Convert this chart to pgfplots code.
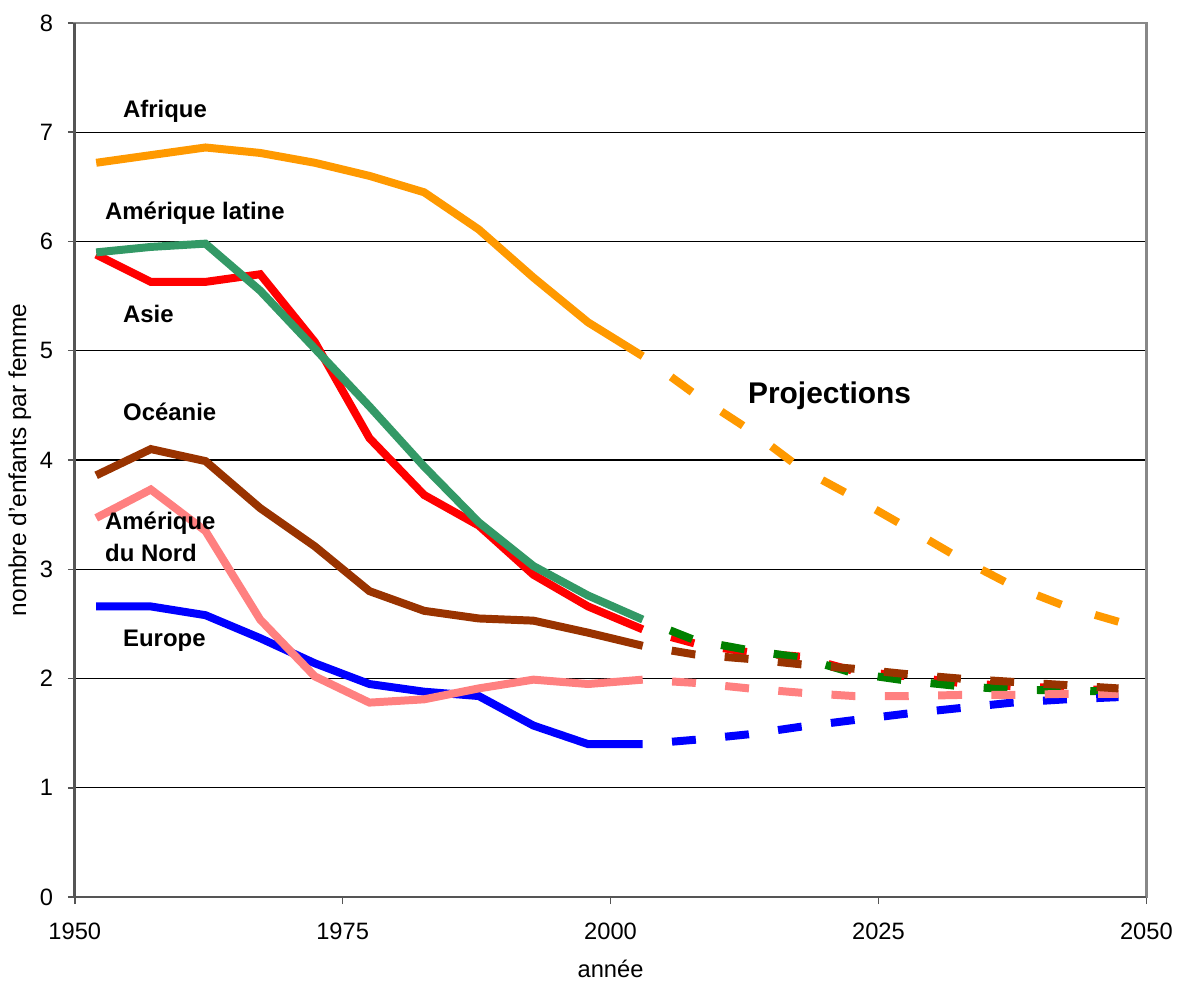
\documentclass[border=0pt]{standalone}
\usepackage{fontspec}
\setmainfont{Liberation Sans}
\usepackage{pgfplots}
\pgfplotsset{compat=1.18}

\definecolor{cAfr}{HTML}{FF9900}
\definecolor{cAsi}{HTML}{FF0000}
\definecolor{cLat}{HTML}{339966}
\definecolor{cLatP}{HTML}{008000}
\definecolor{cOce}{HTML}{993300}
\definecolor{cNor}{HTML}{FF8080}
\definecolor{cEur}{HTML}{0000FF}
\definecolor{axdark}{HTML}{555555}
\definecolor{axgray}{HTML}{888888}

\tikzset{
    solid line/.style={line width=3.2pt, line cap=butt},
    proj/.style={line width=3.2pt, line cap=butt, dash pattern=on 9.6pt off 11.8pt, dash phase=9.6pt},
    projA/.style={line width=3.2pt, line cap=butt, dash pattern=on 10.4pt off 14.1pt, dash phase=10.4pt},
    lab/.style={font=\fontsize{9.6}{11}\selectfont\bfseries, anchor=base west, inner sep=0pt},
}

\begin{document}
\begin{tikzpicture}
\begin{axis}[
    name=ax,
    scale only axis,
    width=430pt, height=350.8pt,
    xmin=1950, xmax=2050, ymin=0, ymax=8,
    xtick={1950,1975,2000,2025,2050},
    ytick={0,1,2,3,4,5,6,7,8},
    xtick pos=bottom, ytick pos=left,
    tick align=outside,
    major tick length=2.8pt,
    tick style={axdark, line width=0.6pt},
    axis line style={axgray, line width=1.1pt},
    ymajorgrids=true,
    grid style={black, line width=0.5pt},
    /pgf/number format/assume math mode=true,
    /pgf/number format/1000 sep={},
    tick label style={font=\fontsize{9.5}{11}\selectfont},
    xticklabel style={yshift=-4pt},
    yticklabel style={xshift=-2.4pt},
    xlabel={année},
    ylabel={nombre d'enfants par femme},
    every axis x label/.style={at={(axis description cs:0.5,-0.0825)}, anchor=center, font=\fontsize{9.5}{11}\selectfont},
    every axis y label/.style={at={(axis description cs:-0.0512,0.5)}, anchor=center, rotate=90, font=\fontsize{9.8}{11}\selectfont},
    clip=false,
]
% Asie
\addplot[cAsi, solid line, mark=none] coordinates {(1952.0,5.88)(1957.1,5.63)(1962.2,5.63)(1967.3,5.70)(1972.4,5.08)(1977.5,4.20)(1982.6,3.68)(1987.7,3.40)(1992.8,2.95)(1997.9,2.66)(2003.0,2.45)};
\addplot[cAsi, proj, mark=none] coordinates {(2003.0,2.45)(2007.9,2.32)(2012.9,2.24)(2017.8,2.20)(2022.7,2.07)(2027.7,2.02)(2032.6,1.96)(2037.5,1.93)(2042.5,1.91)(2047.4,1.89)};
% Amerique latine
\addplot[cLat, solid line, mark=none] coordinates {(1952.0,5.90)(1957.1,5.95)(1962.2,5.98)(1967.3,5.55)(1972.4,5.02)(1977.5,4.49)(1982.6,3.94)(1987.7,3.43)(1992.8,3.03)(1997.9,2.76)(2003.0,2.54)};
\addplot[cLatP, proj, mark=none] coordinates {(2003.0,2.54)(2007.9,2.35)(2012.9,2.26)(2017.8,2.19)(2022.7,2.05)(2027.7,1.98)(2032.6,1.93)(2037.5,1.90)(2042.5,1.89)(2047.4,1.88)};
% Europe
\addplot[cEur, solid line, mark=none] coordinates {(1952.0,2.66)(1957.1,2.66)(1962.2,2.58)(1967.3,2.37)(1972.4,2.14)(1977.5,1.95)(1982.6,1.88)(1987.7,1.84)(1992.8,1.57)(1997.9,1.40)(2003.0,1.40)};
\addplot[cEur, proj, mark=none] coordinates {(2003.0,1.40)(2007.9,1.44)(2012.9,1.49)(2017.8,1.56)(2022.7,1.62)(2027.7,1.68)(2032.6,1.73)(2037.5,1.78)(2042.5,1.81)(2047.4,1.83)};
% Amerique du Nord
\addplot[cNor, solid line, mark=none] coordinates {(1952.0,3.47)(1957.1,3.73)(1962.2,3.35)(1967.3,2.54)(1972.4,2.02)(1977.5,1.78)(1982.6,1.81)(1987.7,1.91)(1992.8,1.99)(1997.9,1.95)(2003.0,1.99)};
\addplot[cNor, proj, mark=none] coordinates {(2003.0,1.99)(2007.9,1.96)(2012.9,1.91)(2017.8,1.87)(2022.7,1.84)(2027.7,1.84)(2032.6,1.85)(2037.5,1.85)(2042.5,1.86)(2047.4,1.86)};
% Oceanie
\addplot[cOce, solid line, mark=none] coordinates {(1952.0,3.86)(1957.1,4.10)(1962.2,3.99)(1967.3,3.56)(1972.4,3.21)(1977.5,2.80)(1982.6,2.62)(1987.7,2.55)(1992.8,2.53)(1997.9,2.42)(2003.0,2.30)};
\addplot[cOce, proj, mark=none] coordinates {(2003.0,2.30)(2007.9,2.22)(2012.9,2.18)(2017.8,2.13)(2022.7,2.09)(2027.7,2.04)(2032.6,2.00)(2037.5,1.97)(2042.5,1.94)(2047.4,1.91)};
% Afrique
\addplot[cAfr, solid line, mark=none] coordinates {(1952.0,6.72)(1957.1,6.79)(1962.2,6.86)(1967.3,6.81)(1972.4,6.72)(1977.5,6.60)(1982.6,6.45)(1987.7,6.11)(1992.8,5.67)(1997.9,5.26)(2003.0,4.95)};
\addplot[cAfr, projA, mark=none] coordinates {(2003.0,4.95)(2007.9,4.60)(2012.9,4.28)(2017.8,3.92)(2022.7,3.66)(2027.7,3.38)(2032.6,3.10)(2037.5,2.85)(2042.5,2.66)(2047.4,2.52)};

\draw[axdark, line width=1.1pt] (rel axis cs:0,1) -- (rel axis cs:0,0) -- (rel axis cs:1,0);

\node[lab] at (axis cs:1954.47,7.13) {Afrique};
\node[lab] at (axis cs:1952.79,6.20) {Amérique latine};
\node[lab] at (axis cs:1954.47,5.26) {Asie};
\node[lab] at (axis cs:1954.47,4.36) {Océanie};
\node[lab] at (axis cs:1952.79,3.36) {Amérique};
\node[lab] at (axis cs:1952.79,3.07) {du Nord};
\node[lab] at (axis cs:1954.47,2.29) {Europe};
\node[font=\fontsize{12}{14}\selectfont\bfseries, anchor=base west, inner sep=0pt] at (axis cs:2012.79,4.52) {Projections};
\end{axis}
\path ([shift={(-30pt,-34.4pt)}]ax.south west) rectangle ([shift={(12.4pt,9.2pt)}]ax.north east);
\end{tikzpicture}
\end{document}
